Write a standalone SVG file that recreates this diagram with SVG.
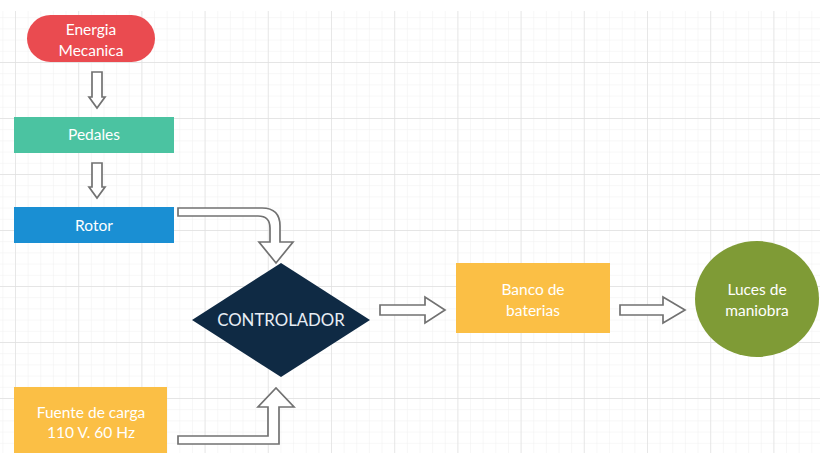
<svg xmlns="http://www.w3.org/2000/svg" width="820" height="453" viewBox="0 0 820 453">
  <defs>
    <pattern id="minor" x="15" y="6" width="12.64" height="11.2" patternUnits="userSpaceOnUse">
      <path d="M0,0 V11.2 M0,0 H12.64" fill="none" stroke="#efefef" stroke-width="1"/>
    </pattern>
    <pattern id="major" x="15" y="6" width="63.2" height="56" patternUnits="userSpaceOnUse">
      <path d="M0,0 V56 M0,0 H63.2" fill="none" stroke="#e0e0e0" stroke-width="1.3"/>
    </pattern>
    <style>
      .lbl { font-family: Lato, "Open Sans", "Liberation Sans", sans-serif; font-size: 15.5px; fill: #ffffff; text-anchor: middle; }
      .big { font-size: 16.8px; fill: #e8eef5; }
      .conn { fill: #ffffff; stroke: #727272; stroke-width: 1.7; stroke-linejoin: miter; }
    </style>
  </defs>

  <!-- canvas -->
  <rect x="0" y="0" width="820" height="453" fill="#ffffff"/>
  <rect x="0" y="11" width="820" height="442" fill="url(#minor)"/>
  <rect x="0" y="11" width="820" height="442" fill="url(#major)"/>

  <!-- connectors -->
  <g id="connectors">
    <path class="conn" d="M92,72 H102 V97 H105 L97,108 L89,97 H92 Z"/>
    <path class="conn" d="M92,163 H102 V187 H105 L97,198 L89,187 H92 Z"/>
    <path class="conn" d="M178,208 H262 Q280,208 280,226 V242 H293 L276,263 L259,242 H270 V228 Q270,216 258,216 H178 Z"/>
    <path class="conn" d="M178,436 H268 V407 H258 L276,388 L294,407 H279 V444 H178 Z"/>
    <path class="conn" d="M380,305 H425 V297 L445,310 L425,323 V315 H380 Z"/>
    <path class="conn" d="M620,305 H663 V297 L685,310 L663,323 V315 H620 Z"/>
  </g>

  <!-- nodes -->
  <g id="energia">
    <rect x="27" y="15" width="128" height="47" rx="23.5" fill="#ea4b50"/>
    <text class="lbl" x="91" y="35">Energia</text>
    <text class="lbl" x="91" y="56">Mecanica</text>
  </g>

  <g id="pedales">
    <rect x="14" y="117" width="160" height="36" fill="#4bc3a1"/>
    <text class="lbl" x="94" y="140">Pedales</text>
  </g>

  <g id="rotor">
    <rect x="14" y="207" width="160" height="36" fill="#1a8fd3"/>
    <text class="lbl" x="94" y="231">Rotor</text>
  </g>

  <g id="controlador">
    <polygon points="281,263 370,320 281,377 192,320" fill="#0f2a44"/>
    <text class="lbl big" x="281" y="326">CONTROLADOR</text>
  </g>

  <g id="fuente">
    <rect x="14" y="387" width="153" height="70" fill="#fbbf45"/>
    <text class="lbl" x="91" y="418">Fuente de carga</text>
    <text class="lbl" x="91" y="438">110 V. 60 Hz</text>
  </g>

  <g id="banco">
    <rect x="456" y="263" width="154" height="70" fill="#fbbf45"/>
    <text class="lbl" x="533" y="295">Banco de</text>
    <text class="lbl" x="533" y="316">baterias</text>
  </g>

  <g id="luces">
    <ellipse cx="757" cy="299" rx="62" ry="58" fill="#7f9b36"/>
    <text class="lbl" x="757" y="295">Luces de</text>
    <text class="lbl" x="757" y="316">maniobra</text>
  </g>
</svg>
